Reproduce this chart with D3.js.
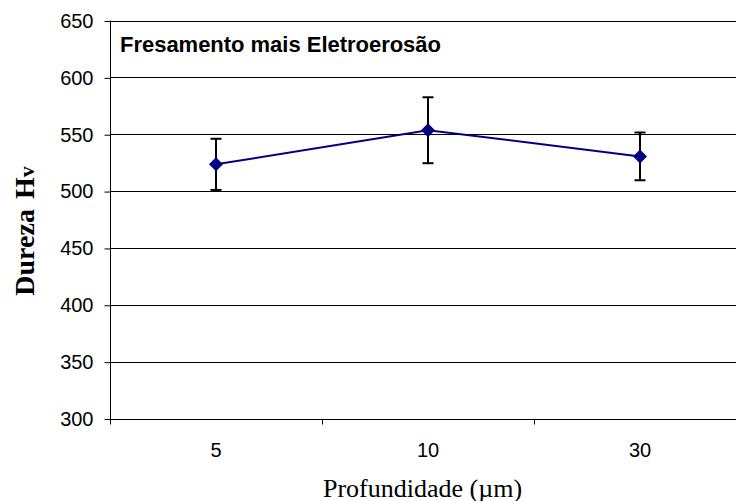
<!DOCTYPE html>
<html><head><meta charset="utf-8">
<script src="https://cdn.jsdelivr.net/npm/d3@7"></script>
<style>body{margin:0;background:#fff;} svg{display:block;}</style>
</head><body>
<script>
const categories = ["5", "10", "30"];
const values = [523.5, 553.5, 530.5];
const errors = [22.5, 29, 21];
const yTicks = [300, 350, 400, 450, 500, 550, 600, 650];
const title = "Fresamento mais Eletroerosão";
const xTitle = "Profundidade (µm)";

const W = 736, H = 501;
const mLeft = 110, mTop = 20.5, plotW = 636, mBottom = 418.5;
const svg = d3.select("body").append("svg").attr("width", W).attr("height", H);

const x = d3.scaleBand().domain(categories).range([mLeft, mLeft + plotW]);
const y = d3.scaleLinear().domain([300, 650]).range([mBottom, mTop]);

// gridlines
svg.append("g").selectAll("line").data(yTicks.filter(d => d > 300)).join("line")
  .attr("x1", mLeft).attr("x2", W).attr("y1", d => Math.round(y(d)) + 0.5).attr("y2", d => Math.round(y(d)) + 0.5)
  .attr("stroke", "#000").attr("stroke-width", 1);

// y axis
const yAxis = d3.axisLeft(y).tickValues(yTicks).tickSize(6).tickPadding(11).tickFormat(d3.format("d"));
const gy = svg.append("g").attr("transform", `translate(${mLeft + 0.5},0.5)`).call(yAxis);
gy.select(".domain").attr("d", `M0,${mTop - 0.5}V${mBottom}`).attr("stroke", "#000");
gy.selectAll("text").attr("font-family", "Liberation Sans, Arial, sans-serif").attr("font-size", 20).attr("fill", "#000");

// x axis
const xAxis = d3.axisBottom(x).tickSize(0).tickPadding(23);
const gx = svg.append("g").attr("transform", `translate(0,${Math.round(mBottom) + 0.5})`).call(xAxis);
gx.select(".domain").attr("d", `M${mLeft},0H${W}`).attr("stroke", "#000");
gx.selectAll("text").attr("font-family", "Liberation Sans, Arial, sans-serif").attr("font-size", 20).attr("fill", "#000");
// boundary ticks between categories
gx.append("g").selectAll("line").data(categories.slice(1)).join("line")
  .attr("x1", d => Math.round(x(d)) + 0.5).attr("x2", d => Math.round(x(d)) + 0.5)
  .attr("y1", 0).attr("y2", 5).attr("stroke", "#000");
gx.append("line").attr("x1", mLeft + 0.5).attr("x2", mLeft + 0.5).attr("y1", 0).attr("y2", 5).attr("stroke", "#000");

const cx = d => x(d) + x.bandwidth() / 2;

// error bars
const eb = svg.append("g").attr("stroke", "#000").attr("stroke-width", 2);
categories.forEach((c, i) => {
  const X = cx(c);
  eb.append("line").attr("x1", X).attr("x2", X).attr("y1", y(values[i] + errors[i])).attr("y2", y(values[i] - errors[i]));
  eb.append("line").attr("x1", X - 5.5).attr("x2", X + 5.5).attr("y1", y(values[i] + errors[i])).attr("y2", y(values[i] + errors[i]));
  eb.append("line").attr("x1", X - 5.5).attr("x2", X + 5.5).attr("y1", y(values[i] - errors[i])).attr("y2", y(values[i] - errors[i]));
});

// line
const line = d3.line().x((d, i) => cx(categories[i])).y(d => y(d));
svg.append("path").datum(values).attr("d", line).attr("fill", "none").attr("stroke", "#000080").attr("stroke-width", 2);

// markers
svg.append("g").selectAll("path").data(values).join("path")
  .attr("transform", (d, i) => `translate(${cx(categories[i])},${y(d)})`)
  .attr("d", "M0,-7L7,0L0,7L-7,0Z").attr("fill", "#000080");

// title
svg.append("text").attr("x", 120).attr("y", 51.5).text(title)
  .attr("font-family", "Liberation Sans, Arial, sans-serif").attr("font-weight", "bold")
  .attr("font-size", 22).attr("textLength", 321).attr("lengthAdjust", "spacing").attr("fill", "#000");

// y title
const yt = svg.append("text").attr("transform", "translate(33.5,231) rotate(-90)").attr("text-anchor", "middle")
  .attr("font-family", "Liberation Serif, Times New Roman, serif").attr("font-weight", "bold").attr("font-size", 28).attr("fill", "#000");
yt.append("tspan").text("Dureza");
yt.append("tspan").attr("dx", 10).text("H");
yt.append("tspan").attr("font-size", 22).text("v");

// x title
svg.append("text").attr("x", 422.5).attr("y", 496.5).attr("text-anchor", "middle").text(xTitle)
  .attr("font-family", "Liberation Serif, Times New Roman, serif").attr("font-size", 26).attr("fill", "#000");
</script>
</body></html>
